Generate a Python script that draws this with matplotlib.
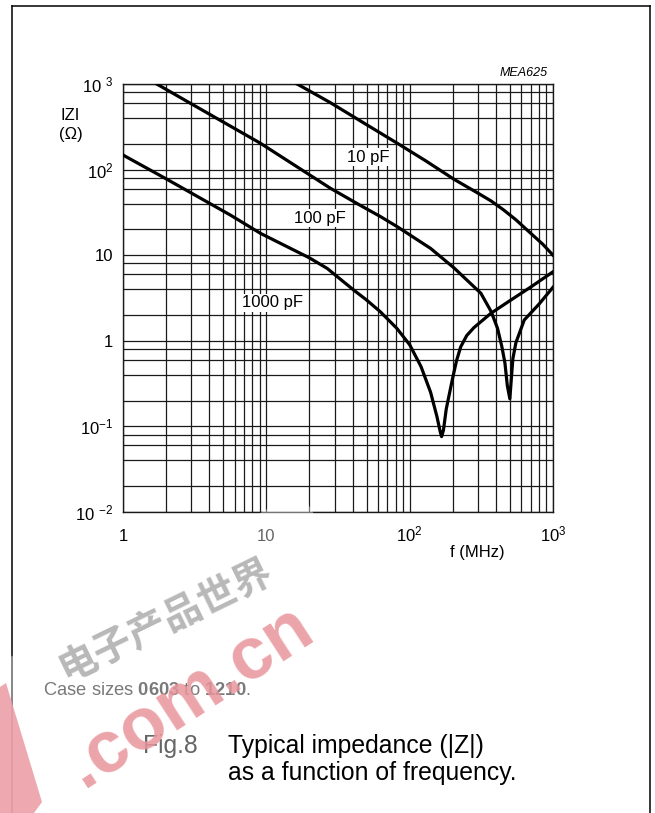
import matplotlib
matplotlib.use("Agg")
import matplotlib.pyplot as plt
from matplotlib.lines import Line2D
from matplotlib.patches import Polygon

W, H = 655, 813

# |Z| curves (f in MHz, |Z| in ohm)
freq_10pf = [16.4, 28, 45, 82, 130, 204, 300, 370, 450, 550, 700, 850, 1000]
z_10pf = [1000, 605, 373, 203, 126, 77, 53, 43, 34, 26, 18, 13.4, 10.0]

freq_100pf = [1.72, 3, 9.1, 28, 45.5, 62.7, 82, 140, 204, 314, 370, 410, 440,
              462, 480, 500, 512, 525, 551, 630, 800, 1000]
z_100pf = [1000, 586, 203, 60.5, 38, 28.2, 21.5, 12, 7.1, 3.59, 2.2, 1.4, 0.85,
           0.55, 0.3, 0.21, 0.36, 0.62, 0.95, 1.75, 2.69, 4.22]

freq_1000pf = [1, 2, 5.6, 9.1, 20, 26.6, 40.8, 50, 62.3, 81.3, 100, 120, 140,
               155, 163, 167, 172, 180, 199, 212, 227, 250, 280, 368, 500, 700, 1000]
z_1000pf = [148, 78, 29.5, 18.0, 9.3, 7.0, 3.9, 3.0, 2.19, 1.4, 0.9, 0.5, 0.25,
            0.13, 0.088, 0.076, 0.09, 0.16, 0.36, 0.58, 0.85, 1.15, 1.42, 2.09,
            2.94, 4.25, 6.4]

curve_labels = ["10 pF", "100 pF", "1000 pF"]
label_pos = [(51.3, 140), (23.7, 27.2), (11.1, 2.77)]

x_ticks = [1, 10, 100, 1000]
x_ticklabels = ["1", "10", "10$^{2}$", "10$^{3}$"]
y_ticks = [0.01, 0.1, 1, 10, 100, 1000]
y_ticklabels = ["10 $^{-2}$", "10$^{-1}$", "1", "10", "10$^{2}$", "10 $^{3}$"]

x_minor = [m * d for d in (1, 10, 100) for m in range(2, 10)]
y_minor = [m * d for d in (0.01, 0.1, 1, 10, 100) for m in (2, 4, 6, 8)]

note = "Case sizes $\\bf{0603}$ to $\\bf{1210}$."
caption = ["Fig.8", "Typical impedance (|Z|)", "as a function of frequency."]

plt.rcParams["font.family"] = ["Liberation Sans", "DejaVu Sans"]
plt.rcParams["mathtext.fontset"] = "custom"
plt.rcParams["mathtext.rm"] = "Liberation Sans"
plt.rcParams["mathtext.it"] = "Liberation Sans:italic"
plt.rcParams["mathtext.bf"] = "Liberation Sans:bold"
plt.rcParams["mathtext.default"] = "regular"


def fxy(px, py):
    return px / W, 1 - py / H


def draw_chart(out_path="out.png"):
    fig = plt.figure(figsize=(W / 100, H / 100), dpi=100)
    ax = fig.add_axes([123 / W, 1 - 512 / H, 430 / W, 428 / H])
    ax.set_xscale("log")
    ax.set_yscale("log")
    ax.set_xlim(1, 1000)
    ax.set_ylim(0.01, 1000)

    ax.set_xticks(x_ticks)
    ax.set_xticks(x_minor, minor=True)
    ax.set_yticks(y_ticks)
    ax.set_yticks(y_minor, minor=True)
    ax.set_xticklabels(x_ticklabels, fontsize=12)
    ax.set_yticklabels(y_ticklabels, fontsize=12)
    ax.set_xticklabels([], minor=True)
    ax.set_yticklabels([], minor=True)
    ax.tick_params(which="both", length=0)
    ax.tick_params(axis="x", pad=21)
    ax.tick_params(axis="y", pad=7)
    for lab in ax.get_xticklabels():
        lab.set_verticalalignment("baseline")
    for lab in ax.get_yticklabels():
        lab.set_verticalalignment("center_baseline")

    ax.grid(which="both", color="#1a1a1a", lw=0.9)
    ax.set_axisbelow(True)
    for sp in ax.spines.values():
        sp.set_color("#1a1a1a")
        sp.set_linewidth(1.0)

    for f, z in [(freq_10pf, z_10pf), (freq_100pf, z_100pf), (freq_1000pf, z_1000pf)]:
        ax.plot(f, z, color="black", lw=2.3, solid_joinstyle="round", zorder=3)

    for txt, (x, y) in zip(curve_labels, label_pos):
        ax.text(x, y, txt, ha="center", va="center", fontsize=12, zorder=4,
                bbox=dict(facecolor="white", edgecolor="none", pad=1.0))

    # axis captions
    fig.text(*fxy(70, 115), "IZI", ha="center", va="center", fontsize=12)
    fig.text(*fxy(71, 135), "(\u03a9)", ha="center", va="center", fontsize=12)
    fig.text(*fxy(477, 552), "f (MHz)", ha="center", va="center", fontsize=12)
    fig.text(*fxy(548, 73), "MEA625", ha="right", va="center", fontsize=9,
             style="italic")

    fig.text(*fxy(43, 695), note, ha="left", va="baseline", fontsize=13.2, color="#222222")

    fig.text(*fxy(143, 753), caption[0], ha="left", va="baseline", fontsize=17.8)
    fig.text(*fxy(228, 753), caption[1], ha="left", va="baseline", fontsize=17.8)
    fig.text(*fxy(228, 780), caption[2], ha="left", va="baseline", fontsize=17.8)

    # page frame
    for xs, ys in [((11.5, 11.5), (6, 813)), ((11.5, 650), (6, 6)), ((650, 650), (6, 813))]:
        fig.add_artist(Line2D([x / W for x in xs], [1 - y / H for y in ys],
                              transform=fig.transFigure, color="black", lw=1.1))

    # watermark
    haze = [(0, 663), (300, 490), (388, 642), (0, 866)]
    fig.add_artist(Polygon([fxy(*p) for p in haze], closed=True, transform=fig.transFigure,
                           facecolor="white", edgecolor="none", alpha=0.4, zorder=10))
    band = [(0, 687), (6, 683), (42, 802), (34, 813), (0, 813)]
    fig.add_artist(Polygon([fxy(*p) for p in band], closed=True, transform=fig.transFigure,
                           facecolor="#eba0a6", edgecolor="none", alpha=0.9, zorder=11))
    fig.text(*fxy(166, 620), "电子产品世界", rotation=26, color="#b8b8b8", fontsize=28,
             fontweight="bold", family=["Noto Sans CJK SC", "DejaVu Sans"],
             ha="center", va="center", rotation_mode="anchor", zorder=11)
    fig.text(*fxy(190, 696), ".com.cn", rotation=33, color="#e8959b", fontsize=53,
             fontweight="bold", ha="center", va="center", rotation_mode="anchor",
             alpha=0.85, zorder=11)

    fig.savefig(out_path, dpi=100)
    plt.close(fig)
    return out_path


if __name__ == "__main__":
    draw_chart("out.png")
